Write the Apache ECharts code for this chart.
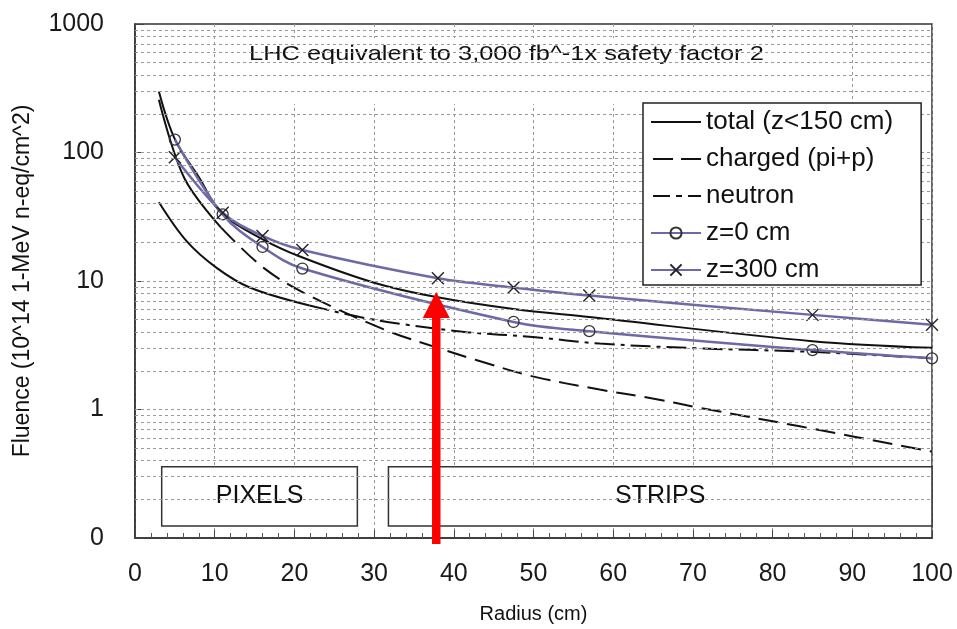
<!DOCTYPE html>
<html>
<head>
<meta charset="utf-8">
<script src="https://cdn.jsdelivr.net/npm/echarts@6/dist/echarts.min.js"></script>
<style>
html,body{margin:0;padding:0;background:#fff;}
#c{width:957px;height:629px;}
</style>
</head>
<body>
<div id="c"></div>
<script>
// ---- data (radius cm, fluence 1e14 n-eq/cm^2) ----
const totalData = [[3,298],[5,127],[8.1,63],[10.8,34],[16.1,21],[20.7,15.5],[30,9.7],[37.8,7.5],[47.5,6.05],[57,5.24],[85,3.4],[100,3.02]];
const chargedSolidData = [[3,257],[6.2,63],[10.8,26]];
const chargedData = [[10.8,26],[16.1,12.7],[21.5,7.9],[31.5,4.14],[38.2,2.99],[42.8,2.43],[49.9,1.81],[58.3,1.43],[64.6,1.23],[70.9,1.03],[83.4,0.74],[100,0.47]];
const neutronSolidData = [[3,41],[6.45,20.5],[10.2,12.7],[14.4,8.9],[21.9,6.45]];
const neutronData = [[21.9,6.45],[28.2,5.24],[33.2,4.65],[41.6,4.0],[49.9,3.67],[58.3,3.26],[70.9,2.99],[84.8,2.81],[100,2.5]];
const z0Data = [[5,126],[11,33],[16,18.4],[21,12.5],[47.5,4.8],[57,4.07],[85,2.9],[100,2.5]];
const z300Data = [[5,92],[11,34],[16,22.4],[21,17.4],[38,10.5],[47.5,8.9],[57,7.7],[85,5.45],[100,4.57]];
const yTickLabels = {'0.1':'0','1':'1','10':'10','100':'100','1000':'1000'};
const yDecades = [0.1, 1, 10, 100];
const yMultipliers = [1,2,3,4,5,6,7,8,9];
const detectorRegions = [
  {name:'PIXELS', x0:3.35, x1:27.9, y0:0.124, y1:0.359},
  {name:'STRIPS', x0:31.8, x1:100, y0:0.124, y1:0.359}
];
const arrowAt = [37.8, 8.2];
const titleText = 'LHC equivalent to 3,000 fb^-1x safety factor 2';

const FONT = '"Liberation Sans", Arial, sans-serif';
const PURPLE = '#6d69a6';
const yGrid = [];
yDecades.forEach(d => yMultipliers.forEach(m => { const v = +(d*m).toPrecision(3); if (v > 0.1) yGrid.push(v); }));

// legend icons (50 x 14 box; zero-area corner points fix the bounding box)
const BOX = 'M0,0L0.01,0Z M50,14L49.99,14Z ';
const ICON_SOLID = 'path://' + BOX + 'M0,6H50V8H0Z';
const ICON_DASH = 'path://' + BOX + 'M2,6H22V8H2Z M30,6H50V8H30Z';
const ICON_DASHDOT = 'path://' + BOX + 'M2,6H19V8H2Z M25,6H31V8H25Z M37,6H50V8H37Z';

const chart = echarts.init(document.getElementById('c'), null, {renderer:'canvas'});
const baseLine = {type:'line', smooth:0.35, showSymbol:false, symbol:'none', z:3, clip:false};
const option = {
  animation:false,
  backgroundColor:'#fff',
  grid:{left:135, top:24, width:797, height:519, show:true, borderColor:'#333', borderWidth:1.5, backgroundColor:'transparent'},
  xAxis:{
    type:'value', min:0, max:100, interval:10,
    name:'Radius (cm)', nameLocation:'middle', nameGap:66,
    nameTextStyle:{fontSize:20, fontFamily:FONT, color:'#111'},
    axisLine:{show:true, lineStyle:{color:'#333', width:1.5}},
    axisTick:{show:true, inside:true, length:8, lineStyle:{color:'#444'}},
    minorTick:{show:true, splitNumber:5, length:5, lineStyle:{color:'#555'}},
    axisLabel:{fontSize:25, fontFamily:FONT, color:'#1a1a1a', margin:24},
    splitLine:{show:true, lineStyle:{type:[3,3], color:'#999', width:1}}
  },
  yAxis:{
    type:'log', logBase:10, min:0.1, max:1000,
    name:'Fluence (10^14 1-MeV n-eq/cm^2)', nameLocation:'middle', nameGap:101,
    nameTextStyle:{fontSize:23, fontFamily:FONT, color:'#111'},
    axisLine:{show:true, lineStyle:{color:'#333', width:1.5}},
    axisTick:{show:true, inside:true, length:9, lineStyle:{color:'#444'}},
    axisLabel:{fontSize:25, fontFamily:FONT, color:'#1a1a1a', margin:31,
      formatter: v => { const k = String(+v.toPrecision(3)); return yTickLabels[k] !== undefined ? yTickLabels[k] : ''; }},
    splitLine:{show:false}
  },
  legend:{
    orient:'vertical', left:643, top:103,
    backgroundColor:'#fff', borderColor:'#222', borderWidth:1.5,
    padding:[5, 28, 1, 7], itemWidth:50, itemHeight:14, itemGap:9,
    textStyle:{fontSize:26, fontFamily:FONT, color:'#111', lineHeight:28},
    data:[
      {name:'total (z<150 cm)', icon:ICON_SOLID},
      {name:'charged (pi+p)', icon:ICON_DASH},
      {name:'neutron', icon:ICON_DASHDOT},
      'z=0 cm','z=300 cm'],
    z:6
  },
  graphic:[
    {id:'titleBox', type:'rect', shape:{x:247, y:38, width:526, height:66}, style:{fill:'#fff'}, z:2, silent:true},
    {id:'titleText', type:'text', x:249, y:54, scaleX:1.21, z:3, silent:true,
      style:{text:titleText, fontSize:21, fontFamily:FONT, fill:'#111', verticalAlign:'middle', align:'left'}}
  ],
  series:[
    {type:'line', name:'grid', data:[], z:1, silent:true,
      markLine:{silent:true, symbol:'none', label:{show:false}, animation:false,
        lineStyle:{type:[3,3], color:'#999', width:1},
        data:yGrid.map(v => ({yAxis:v}))}},
    {type:'line', name:'regions', data:[], z:2, silent:true,
      markArea:{silent:true, itemStyle:{color:'#fff', borderColor:'#333', borderWidth:1.5},
        label:{show:true, position:'inside', fontSize:25, fontFamily:FONT, color:'#111'},
        data:detectorRegions.map(r => [{name:r.name, xAxis:r.x0, yAxis:r.y0},{xAxis:r.x1, yAxis:r.y1}])}},
    Object.assign({}, baseLine, {name:'total (z<150 cm)', data:totalData, lineStyle:{color:'#111', width:2}, itemStyle:{color:'#111'}}),
    Object.assign({}, baseLine, {name:'charged (pi+p)', data:chargedData, lineStyle:{color:'#111', width:2, type:[20,9]}, itemStyle:{color:'#111'}}),
    Object.assign({}, baseLine, {name:'charged-inner', data:chargedSolidData, lineStyle:{color:'#111', width:2}, itemStyle:{color:'#111'}}),
    Object.assign({}, baseLine, {name:'neutron', data:neutronData, lineStyle:{color:'#111', width:2, type:[20,6,4,6]}, itemStyle:{color:'#111'}}),
    Object.assign({}, baseLine, {name:'neutron-inner', data:neutronSolidData, lineStyle:{color:'#111', width:2}, itemStyle:{color:'#111'}}),
    Object.assign({}, baseLine, {name:'z=0 cm', data:z0Data, showSymbol:true, symbol:'circle', symbolSize:11,
      lineStyle:{color:PURPLE, width:2.5}, itemStyle:{color:'rgba(255,255,255,0)', borderColor:'#333', borderWidth:1.3}}),
    Object.assign({}, baseLine, {name:'z=300 cm', data:z300Data, showSymbol:true, symbol:'path://M0,0L10,10M10,0L0,10', symbolSize:12,
      lineStyle:{color:PURPLE, width:2.5}, itemStyle:{color:'rgba(0,0,0,0)', borderColor:'#222', borderWidth:1.4}})
  ]
};
chart.setOption(option);

// red arrow annotation anchored at data coordinate
const tip = chart.convertToPixel({gridIndex:0}, arrowAt);
const base = chart.convertToPixel({gridIndex:0}, [arrowAt[0], 0.1]);
const headH = 26, headW = 27, shaftW = 8.5;
chart.setOption({graphic:[
  {id:'arrowShaft', type:'rect', shape:{x:tip[0]-shaftW/2, y:tip[1]+headH-2, width:shaftW, height:(base[1]+6)-(tip[1]+headH-2)}, style:{fill:'#ff0000'}, z:10, silent:true},
  {id:'arrowHead', type:'polygon', shape:{points:[[tip[0]-headW/2, tip[1]+headH],[tip[0], tip[1]],[tip[0]+headW/2, tip[1]+headH]]}, style:{fill:'#ff0000'}, z:10, silent:true}
]});
</script>
</body>
</html>
